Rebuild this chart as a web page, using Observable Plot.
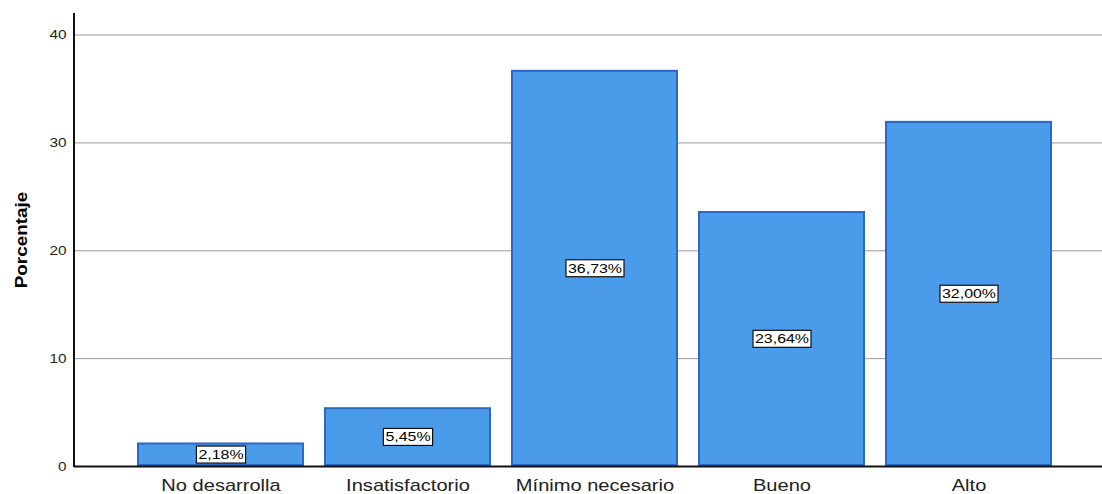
<!DOCTYPE html>
<html>
<head>
<meta charset="utf-8">
<script src="https://cdn.jsdelivr.net/npm/d3@7"></script>
<script src="https://cdn.jsdelivr.net/npm/@observablehq/plot@0.6"></script>
<style>
  html, body { margin: 0; padding: 0; background: #fff; }
  #chart svg { display: block; }
</style>
</head>
<body>
<div id="chart"></div>
<script>
const categories = ["No desarrolla", "Insatisfactorio", "Mínimo necesario", "Bueno", "Alto"];
const percents = [2.18, 5.45, 36.73, 23.64, 32.00];
const yTicks = [0, 10, 20, 30, 40];

const rows = categories.map((c, i) => ({category: c, value: percents[i]}));
const fmt = v => v.toFixed(2).replace(".", ",") + "%";

const chart = Plot.plot({
  width: 1102,
  height: 494,
  marginLeft: 74,
  marginRight: 0,
  marginTop: 13,
  marginBottom: 28,
  style: {fontFamily: "Liberation Sans, Arial, sans-serif", background: "#fff"},
  x: {
    domain: categories,
    paddingInner: 0.1093,
    paddingOuter: 0.296,
    align: 0.5586,
    label: null
  },
  y: {domain: [0, 42], label: null},
  marks: [
    Plot.gridY(yTicks.filter(t => t > 0), {stroke: "#9a9a9a", strokeOpacity: 1, strokeWidth: 1}),
    Plot.barY(rows, {
      x: "category", y: "value",
      fill: "#4a9ceb", stroke: "#2b67c6", strokeWidth: 2, inset: 1
    }),
    Plot.axisY({ticks: yTicks, tickSize: 0, tickPadding: 8, fontSize: 13, fill: "#222", label: null}),
    Plot.axisX({tickSize: 0, tickPadding: 12, fontSize: 17, fill: "#222", label: null}),
    Plot.ruleY([0], {stroke: "#111", strokeWidth: 2}),
    Plot.text(rows, {
      x: "category", y: d => d.value / 2,
      text: d => fmt(d.value),
      fontSize: 13.5, fill: "#000"
    }),
    Plot.text(["Porcentaje"], {
      frameAnchor: "left", textAnchor: "middle", dx: -53, rotate: -90,
      text: d => d, fontSize: 16, fontWeight: "bold", fill: "#000"
    })
  ]
});

document.getElementById("chart").appendChild(chart);

const svg = d3.select(chart);

// left axis line at the start of the plot frame
svg.append("line")
  .attr("x1", 74).attr("x2", 74)
  .attr("y1", 13).attr("y2", 467)
  .attr("stroke", "#111").attr("stroke-width", 2);

// slightly widened lettering throughout
svg.selectAll("text").each(function() {
  const w = this.getComputedTextLength();
  if (w > 0) {
    this.setAttribute("textLength", (w * 1.18).toFixed(1));
    this.setAttribute("lengthAdjust", "spacingAndGlyphs");
  }
});

// white boxes with a dark outline behind each value label
svg.selectAll("text").filter(function() { return /%$/.test(this.textContent); }).each(function() {
  const b = this.getBBox();
  const padX = 2, padY = 1;
  const r = d3.select(this.parentNode).insert("rect", () => this)
    .attr("x", b.x - padX).attr("y", b.y - padY)
    .attr("width", b.width + 2 * padX).attr("height", b.height + 2 * padY)
    .attr("fill", "#fff").attr("stroke", "#111").attr("stroke-width", 1.2);
  const t = this.getAttribute("transform");
  if (t) r.attr("transform", t);
});
</script>
</body>
</html>
